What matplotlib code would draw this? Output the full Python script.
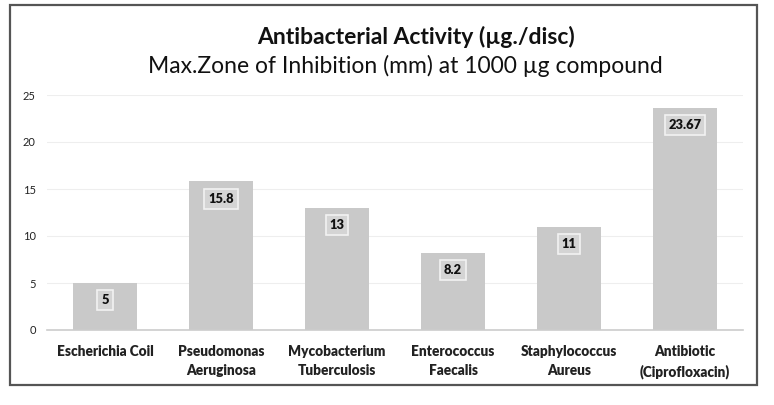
import matplotlib.pyplot as plt
from matplotlib.patches import Rectangle

# data
categories = ["Escherichia Coil", "Pseudomonas\nAeruginosa", "Mycobacterium\nTuberculosis",
              "Enterococcus\nFaecalis", "Staphylococcus\nAureus", "Antibiotic\n(Ciprofloxacin)"]
values = [5, 15.8, 13, 8.2, 11, 23.67]
value_labels = ["5", "15.8", "13", "8.2", "11", "23.67"]
yticks = [0, 5, 10, 15, 20, 25]

plt.rcParams["font.family"] = ["Lato", "DejaVu Sans"]

W, H = 774, 405
fig = plt.figure(figsize=(W / 100, H / 100), dpi=100)

# outer frame
fig.patches.append(Rectangle((10 / W, 1 - 385 / H), 747 / W, 380 / H,
                             transform=fig.transFigure, fill=False,
                             edgecolor="#555555", linewidth=1.6))

ax = fig.add_axes([47 / W, 1 - 330 / H, 696 / W, 235 / H])
x = range(len(categories))
ax.bar(x, values, width=0.55, color="#c9c9c9", zorder=2)
ax.set_xlim(-0.5, len(categories) - 0.5)
ax.set_ylim(0, 25)
ax.set_yticks(yticks)
ax.set_xticks(list(x))
ax.set_xticklabels(categories, fontweight="heavy", fontsize=9.8, linespacing=1.5)
ax.tick_params(axis="both", length=0, labelcolor="#222222")
ax.tick_params(axis="y", labelsize=8, pad=8)
ax.tick_params(axis="x", pad=11)
ax.grid(axis="y", color="#eeeeee", linewidth=0.8, zorder=0)
for s in ["top", "right", "left"]:
    ax.spines[s].set_visible(False)
ax.spines["bottom"].set_color("#cccccc")
ax.spines["bottom"].set_linewidth(1.2)

for xi, v, lab in zip(x, values, value_labels):
    ax.annotate(lab, (xi, v), xytext=(0, -12.5), textcoords="offset points",
                ha="center", va="center", fontsize=9.3, fontweight="heavy", color="#111111",
                bbox=dict(boxstyle="square,pad=0.3", facecolor="#d4d4d4",
                          edgecolor="#f2f2f2", linewidth=1.2), zorder=3)

fig.text(416 / W, 1 - 37 / H, "Antibacterial Activity (µg./disc)",
         ha="center", va="center", fontsize=16.5, fontweight="bold", color="#111111")
fig.text(405 / W, 1 - 66 / H, "Max.Zone of Inhibition (mm) at 1000 µg compound",
         ha="center", va="center", fontsize=16.5, color="#111111")

fig.savefig("out.png", dpi=100, facecolor="white")
